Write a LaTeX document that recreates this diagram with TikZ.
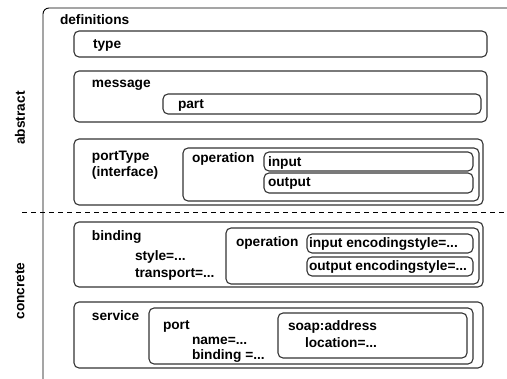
\documentclass[tikz,border=0pt]{standalone}
\usepackage{fontspec}
\setmainfont{Liberation Sans}
\begin{document}
\begin{tikzpicture}[x=1pt,y=-1pt,
  every node/.style={inner sep=0pt,outer sep=0pt},
  box/.style={draw=black!80,line width=1.1pt,rounded corners=5pt,anchor=north west},
  lbl/.style={anchor=base west,font=\fontsize{13.7}{16}\selectfont\bfseries},
  side/.style={font=\fontsize{13.7}{16}\selectfont\bfseries,rotate=90}]
\useasboundingbox (0,0) rectangle (507,379);

% frame of the document
\coordinate (fb) at (43,379);
\coordinate (fc) at (43,8);
\coordinate (fr) at (507,8);
\draw[line width=0.9pt,rounded corners=6pt] (fb) -- (fc) -- (fr);

% abstract / concrete separator
\coordinate (sl) at (22,212);
\coordinate (sr) at (507,212);
\draw[line width=0.9pt,dash pattern=on 5pt off 4pt] (sl) -- (sr);

\node[side] (abstract) at (20,118) {abstract};
\node[side] (concrete) at (20,291) {concrete};
\node[lbl] (defs) at (60,25) {definitions};

% type
\node[box,minimum width=413pt,minimum height=26pt] (type) at (74,31) {};
\node[lbl] (typeT) at (93,49) {type};

% message
\node[box,minimum width=413pt,minimum height=51pt] (message) at (74,71) {};
\node[lbl] (messageT) at (92,88) {message};
\node[box,minimum width=318pt,minimum height=20pt] (part) at (163,94) {};
\node[lbl] (partT) at (178,109) {part};

% portType
\node[box,minimum width=409pt,minimum height=66pt] (portType) at (74,139) {};
\node[lbl] (portTypeT) at (92,161) {portType};
\node[lbl] (ifaceT) at (92,177) {(interface)};
\node[box,minimum width=296pt,minimum height=53pt] (op1) at (183,148) {};
\node[lbl] (op1T) at (192,163) {operation};
\node[box,minimum width=209pt,minimum height=19pt] (input) at (264,152) {};
\node[lbl] (inputT) at (268,167) {input};
\node[box,minimum width=209pt,minimum height=20pt] (output) at (264,173) {};
\node[lbl] (outputT) at (268,187) {output};

% binding
\node[box,minimum width=409pt,minimum height=65pt] (binding) at (74,222) {};
\node[lbl] (bindingT) at (92,241) {binding};
\node[lbl] (styleT) at (135,261) {style=...};
\node[lbl] (transportT) at (135,278) {transport=...};
\node[box,minimum width=253pt,minimum height=56pt] (op2) at (226,228) {};
\node[lbl] (op2T) at (236,247) {operation};
\node[box,minimum width=166pt,minimum height=19pt] (inenc) at (307,234) {};
\node[lbl] (inencT) at (309,248) {input encodingstyle=...};
\node[box,minimum width=166pt,minimum height=19pt] (outenc) at (307,257) {};
\node[lbl] (outencT) at (309,271) {output encodingstyle=...};

% service
\node[box,minimum width=409pt,minimum height=66pt] (service) at (74,302) {};
\node[lbl] (serviceT) at (92,321) {service};
\node[box,minimum width=324pt,minimum height=56pt] (port) at (149,308) {};
\node[lbl] (portT) at (163,330) {port};
\node[lbl] (nameT) at (192,345) {name=...};
\node[lbl] (bindeqT) at (192,360) {binding =...};
\node[box,minimum width=189pt,minimum height=45pt] (soap) at (278,313) {};
\node[lbl] (soapT) at (288,331) {soap:address};
\node[lbl] (locT) at (305,348) {location=...};
\end{tikzpicture}
\end{document}
